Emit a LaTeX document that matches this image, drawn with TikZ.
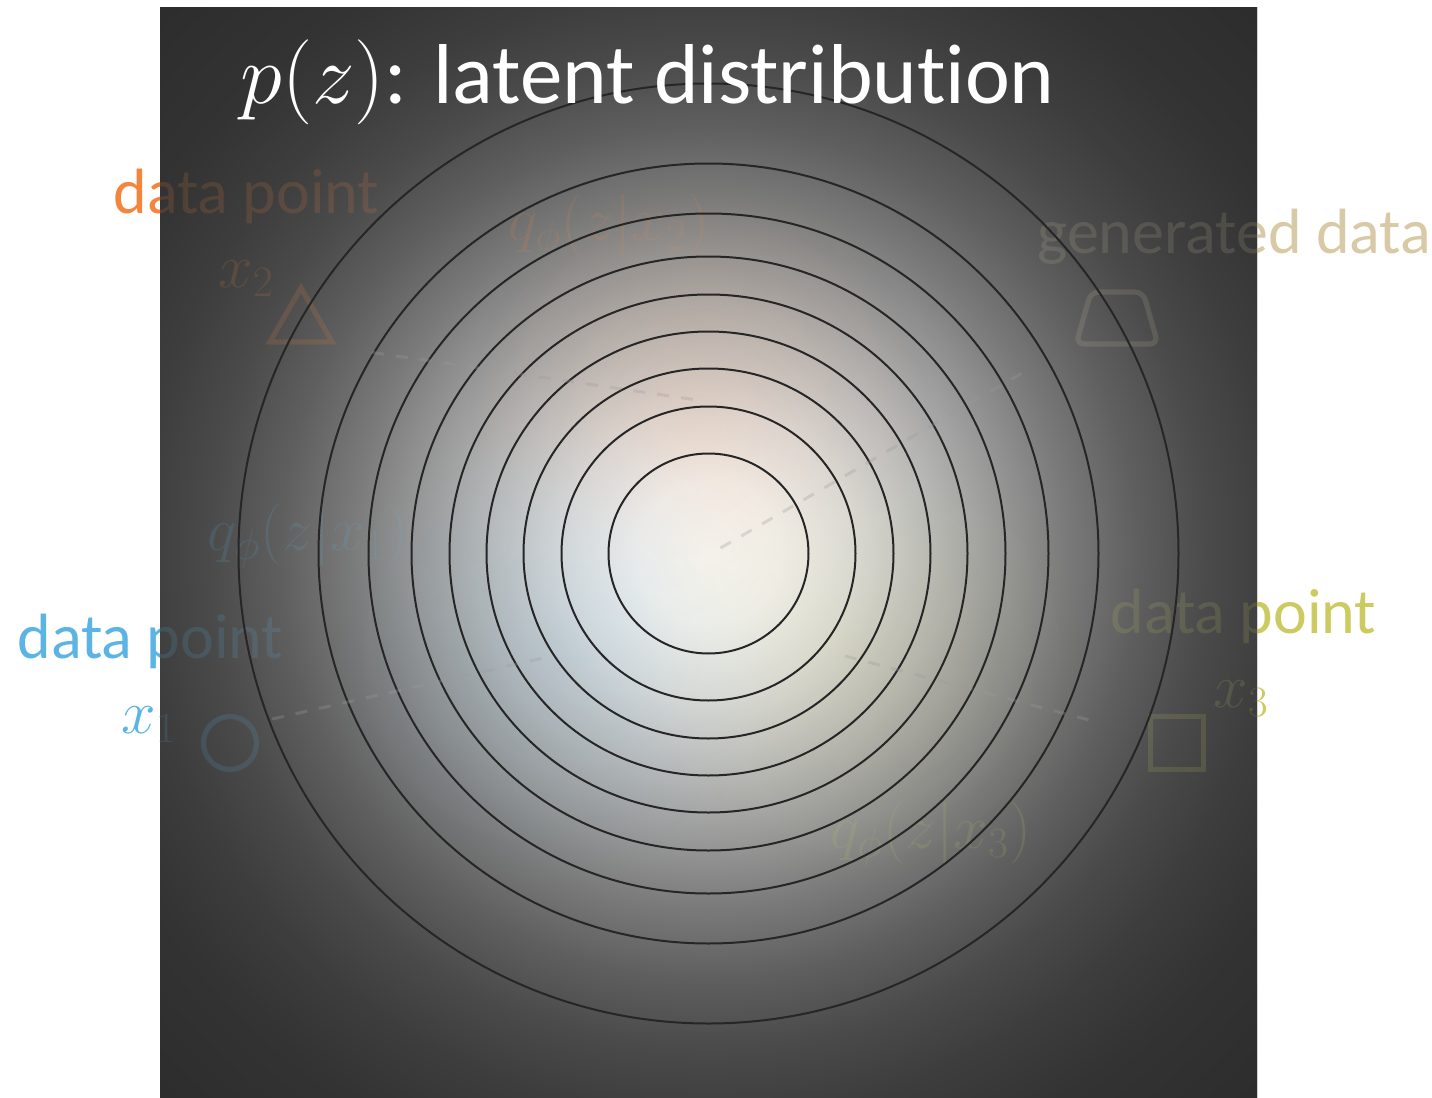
\RequirePackage{fix-cm}
\documentclass[tikz,border=0pt]{standalone}
\usepackage{fontspec}
\newfontfamily\calibri[Ligatures=NoCommon]{Carlito}
\usetikzlibrary{shapes.geometric,fadings}
\definecolor{ptorange}{RGB}{244,133,60}
\definecolor{ptblue}{RGB}{91,180,228}
\definecolor{ptyellow}{RGB}{204,203,98}
\definecolor{genbeige}{RGB}{216,202,166}
\definecolor{dashgray}{RGB}{155,155,155}
% prior p(z): bright centre fading to dark grey
\pgfdeclareradialshading{latentbg}{\pgfpoint{0bp}{0bp}}{%
  rgb(0bp)=(0.98,0.975,0.965);
  rgb(3.3bp)=(0.95,0.948,0.945);
  rgb(6.5bp)=(0.863,0.863,0.863);
  rgb(9.7bp)=(0.741,0.741,0.741);
  rgb(13bp)=(0.608,0.608,0.608);
  rgb(16.3bp)=(0.478,0.478,0.478);
  rgb(19.5bp)=(0.373,0.373,0.373);
  rgb(22.8bp)=(0.29,0.29,0.29);
  rgb(26bp)=(0.239,0.239,0.239);
  rgb(29.7bp)=(0.2,0.2,0.2);
  rgb(35.2bp)=(0.176,0.176,0.176);
  rgb(42bp)=(0.169,0.169,0.169);
  rgb(50bp)=(0.169,0.169,0.169)}
\tikzfading[name=blobfade, inner color=transparent!0, outer color=transparent!100]
\tikzset{lbl/.style={anchor=base west,inner sep=0pt,font=\fontsize{32}{38}\selectfont\calibri},
  mlbl/.style={anchor=base west,inner sep=0pt,font=\fontsize{31}{36}\selectfont},
  sym/.style={draw,line width=2.6pt,inner sep=0pt,outer sep=0pt},
  contour/.style={black!85,line width=1pt},
  dashline/.style={dashgray,opacity=0.3,line width=1.5pt,dash pattern=on 6pt off 6pt},
  blob/.style={path fading=blobfade,fill opacity=0.9}}

\begin{document}
\begin{tikzpicture}[x=0.5pt,y=-0.5pt]
\useasboundingbox (0,0) rectangle (1432,1098);
\coordinate (ctr) at (708.5,553.5);
% opaque base
\shade[shading=latentbg] (160,7) rectangle (1257,1098);
% posteriors q(z|x_i) as soft tints
\fill[ptorange,blob] (700,410) circle[radius=115pt];
\fill[ptblue,blob] (560,650) circle[radius=115pt];
\fill[ptyellow,blob] (850,650) circle[radius=115pt];
% data points and labels
\node[lbl,text=ptorange] (dp2) at (113,213) {data point};
\node[mlbl,text=ptorange] (x2) at (218,287) {$x_2$};
\node[sym,ptorange,regular polygon,regular polygon sides=3,minimum size=36pt] (tri) at (301,324) {};
\node[mlbl,text=ptorange] (q2) at (508,240) {$q_\phi(z|x_2)$};
\node[lbl,text=ptblue] (dp1) at (17,658) {data point};
\node[mlbl,text=ptblue] (x1) at (121,733) {$x_1$};
\node[sym,ptblue,circle,minimum size=26.5pt] (circ) at (230,743) {};
\node[mlbl,text=ptblue] (q1) at (207,550) {$q_\phi(z|x_1)$};
\node[lbl,text=ptyellow] (dp3) at (1110,633) {data point};
\node[mlbl,text=ptyellow] (x3) at (1213,707) {$x_3$};
\node[sym,ptyellow,rectangle,minimum size=26.5pt] (sq) at (1177,743) {};
\node[mlbl,text=ptyellow] (q3) at (830,848) {$q_\phi(z|x_3)$};
\node[lbl,text=genbeige] (gd) at (1037,253) {generated data};
\node[sym,genbeige,trapezium,inner sep=1pt,trapezium left angle=74,trapezium right angle=74,minimum width=12pt,minimum height=26pt,rounded corners=4pt] (gen) at (1117,318) {};
% dark veil on top
\shade[shading=latentbg,opacity=0.85] (160,7) rectangle (1257,1098);
% contours of p(z)
\foreach \r in {100,147,185,222,259,297,340,390,470}
  \draw[contour] (ctr) circle[radius=\r*0.5pt];
% encodings / decoding
\coordinate (m1) at (548,657);
\coordinate (m2) at (697,400);
\coordinate (m3) at (845,656);
\coordinate (zs) at (712,553);
\draw[dashline,shorten <=12pt] (circ.north east) -- (m1);
\draw[dashline,shorten <=36pt] (tri.south) -- (m2);
\draw[dashline,shorten <=32pt] (sq) -- (m3);
\draw[dashline,shorten <=32pt] (gen) -- (zs);
\node[anchor=base west,inner sep=0pt,text=white,font=\fontsize{42.5}{50}\selectfont] (title) at (240,103) {$p(z)${\calibri: latent distribution}};
\end{tikzpicture}
\end{document}
